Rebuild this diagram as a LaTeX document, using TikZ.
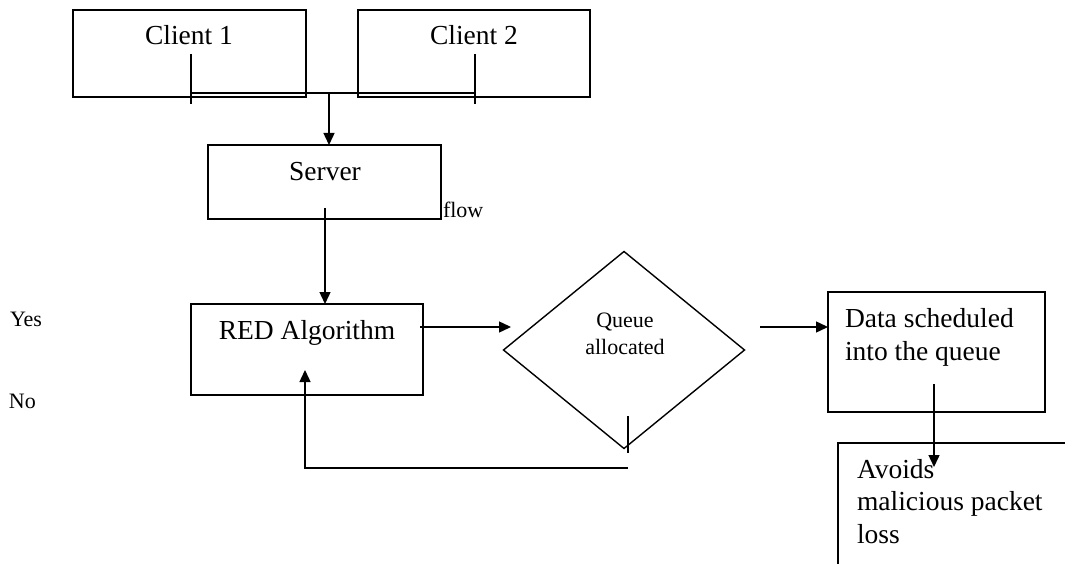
\documentclass[tikz,border=0pt]{standalone}
\usepackage{fontspec}
\setmainfont{Liberation Serif}
\usetikzlibrary{arrows.meta,shapes.geometric}
\begin{document}
\begin{tikzpicture}[x=1pt,y=-1pt,
  every node/.style={inner sep=0pt,outer sep=0pt},
  box/.style={draw,line width=1.4pt,rectangle,anchor=north west},
  big/.style={font=\fontsize{27.5}{33}\selectfont},
  small/.style={font=\fontsize{22}{27}\selectfont},
  wire/.style={line width=1.4pt},
  arrow/.style={line width=1.4pt,-{Triangle[length=12pt,width=11pt]}}]
\useasboundingbox (0,0) rectangle (1065,564);

% clients
\node[box,minimum width=233pt,minimum height=87pt] (c1) at (73,10) {};
\node[box,minimum width=232pt,minimum height=87pt] (c2) at (358,10) {};
\node[big,anchor=base] (c1t) at (189,45) {Client 1};
\node[big,anchor=base] (c2t) at (474,45) {Client 2};

% server
\node[box,minimum width=233pt,minimum height=74pt] (srv) at (208,145) {};
\node[big,anchor=base] (srvt) at (325,181) {Server};
\node[small,anchor=base west] (flow) at (443,218) {flow};

% RED block
\node[box,minimum width=232pt,minimum height=91pt] (red) at (191,304) {};
\node[big,anchor=base] (redt) at (307,339) {RED Algorithm};

% decision
\node[diamond,draw,line width=1.4pt,minimum width=241pt,minimum height=197pt] (dec) at (624,350) {};
\node[small,anchor=base] (dect1) at (625,327) {Queue};
\node[small,anchor=base] (dect2) at (625,354) {allocated};

% scheduling
\node[box,minimum width=217pt,minimum height=120pt] (data) at (828,292) {};
\node[big,anchor=base west] (datat1) at (845,327) {Data scheduled};
\node[big,anchor=base west] (datat2) at (845,360) {into the queue};

% result box (runs off the page)
\coordinate (avtl) at (838,443);
\draw[wire] (1065,443) -- (avtl) -- (838,564);
\node[big,anchor=base west] (avt1) at (857,478) {Avoids};
\node[big,anchor=base west] (avt2) at (857,510) {malicious packet};
\node[big,anchor=base west] (avt3) at (857,543) {loss};

% side labels
\node[small,anchor=base west] (yes) at (10,326) {Yes};
\node[small,anchor=base west] (no) at (9,408) {No};

% client joins
\coordinate (j1a) at (191,54); \coordinate (j1b) at (191,104);
\coordinate (j2a) at (475,54); \coordinate (j2b) at (475,104);
\coordinate (h1) at (191,93); \coordinate (h2) at (475,93);
\coordinate (hm) at (329,93);
\draw[wire] (j1a) -- (j1b);
\draw[wire] (j2a) -- (j2b);
\draw[wire] (h1) -- (h2);
\draw[arrow] (hm) -- (hm |- srv.north);

% server to RED
\coordinate (s1) at (325,208);
\draw[arrow] (s1) -- (s1 |- red.north);

% RED to decision
\coordinate (r1) at (420,327); \coordinate (r2) at (511,327);
\draw[arrow] (r1) -- (r2);

% decision to scheduling
\coordinate (d1) at (760,327);
\draw[arrow] (d1) -- (d1 -| data.west);

% scheduling to result
\coordinate (q1) at (934,384); \coordinate (q2) at (934,467);
\draw[arrow] (q1) -- (q2);

% loop back to RED
\coordinate (b1) at (628,416); \coordinate (b2) at (628,453);
\coordinate (b3) at (628,468); \coordinate (b4) at (305,468);
\coordinate (b5) at (305,370);
\draw[wire] (b1) -- (b2);
\draw[arrow] (b3) -- (b4) -- (b5);
\end{tikzpicture}
\end{document}
